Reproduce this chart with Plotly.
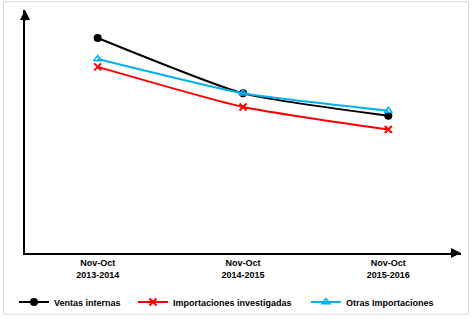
import plotly.graph_objects as go

categories = ["Nov-Oct<br>2013-2014", "Nov-Oct<br>2014-2015", "Nov-Oct<br>2015-2016"]
ventas_internas = [88.5, 65.7, 56.5]
importaciones_investigadas = [76.6, 60.1, 50.8]
otras_importaciones = [79.8, 65.7, 58.5]

cat_labels = ["<b>" + c + "</b>" for c in categories]
FONT = "Liberation Sans, Arial, sans-serif"

fig = go.Figure()
fig.add_trace(go.Scatter(
    x=cat_labels, y=ventas_internas, name="<b>Ventas internas</b>", mode="lines+markers",
    line=dict(color="black", width=2, shape="spline", smoothing=0.5),
    marker=dict(symbol="circle", size=8, color="black"), legend="legend"))
fig.add_trace(go.Scatter(
    x=cat_labels, y=importaciones_investigadas, name="<b>Importaciones investigadas</b>", mode="lines+markers",
    line=dict(color="#ff0000", width=2, shape="spline", smoothing=0.5),
    marker=dict(symbol="x-thin-open", size=7, color="#ff0000", line=dict(width=2, color="#ff0000")), legend="legend2"))
fig.add_trace(go.Scatter(
    x=cat_labels, y=otras_importaciones, name="<b>Otras Importaciones</b>", mode="lines+markers",
    line=dict(color="#00b0f0", width=2, shape="spline", smoothing=0.5),
    marker=dict(symbol="triangle-up-open", size=7, color="#00b0f0", line=dict(width=1.5, color="#00b0f0")), legend="legend3"))

L, R, T, B = 25, 12, 10, 69
W, H = 473, 327
pw, ph = W - L - R, H - T - B

def px_to_paper_x(px):
    return (px - L) / pw

def py_to_paper_y(py):
    return (H - B - py) / ph

leg_common = dict(orientation="h", xanchor="left", yanchor="middle", bgcolor="rgba(0,0,0,0)",
                  font=dict(family=FONT, size=9, color="black"), itemwidth=30)
legy = py_to_paper_y(308)
fig.update_layout(
    width=W, height=H,
    margin=dict(l=L, r=R, t=T, b=B),
    paper_bgcolor="white", plot_bgcolor="white",
    showlegend=True,
    legend=dict(x=px_to_paper_x(14), y=legy, **leg_common),
    legend2=dict(x=px_to_paper_x(133), y=legy, **leg_common),
    legend3=dict(x=px_to_paper_x(306), y=legy, **leg_common),
    xaxis=dict(type="category", range=[-0.5, 2.5], showline=True, linecolor="black", linewidth=2,
               showgrid=False, ticks="", tickfont=dict(family=FONT, size=9, color="black"), zeroline=False),
    yaxis=dict(range=[0, 100], showline=True, linecolor="black", linewidth=2, showgrid=False,
               showticklabels=False, ticks="", zeroline=False),
    font=dict(family=FONT, size=9, color="black"),
)

# axis arrowheads
fig.add_annotation(x=0, y=1, xref="paper", yref="paper", ax=0, ay=12, showarrow=True,
                   arrowhead=2, arrowsize=1, arrowwidth=2, arrowcolor="black", text="", standoff=0)
fig.add_annotation(x=1, y=0, xref="paper", yref="paper", ax=-12, ay=0, showarrow=True,
                   arrowhead=2, arrowsize=1, arrowwidth=2, arrowcolor="black", text="", standoff=0)

# outer border
fig.add_shape(type="rect", xref="paper", yref="paper",
              x0=px_to_paper_x(3.5), x1=px_to_paper_x(468.5), y0=py_to_paper_y(320.5), y1=py_to_paper_y(1.5),
              line=dict(color="#d9d9d9", width=1), fillcolor="rgba(0,0,0,0)", layer="below")

fig.write_html("out.html")
